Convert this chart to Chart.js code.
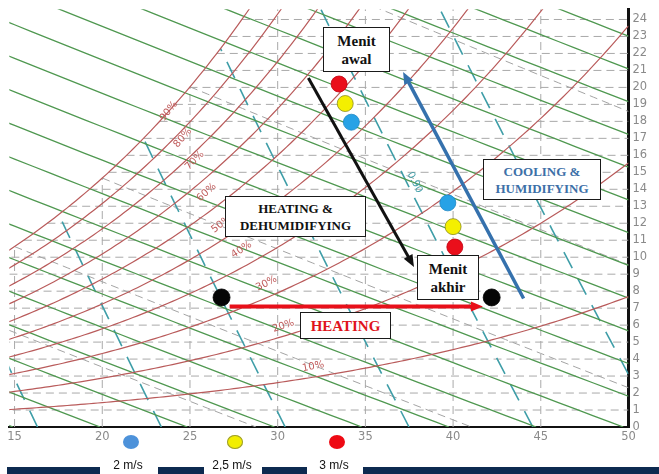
<!DOCTYPE html>
<html>
<head>
<meta charset="utf-8">
<script src="https://cdn.jsdelivr.net/npm/chart.js@4.4.1/dist/chart.umd.min.js"></script>
<style>
  html, body { margin: 0; padding: 0; background: #fff; }
  #wrap { position: relative; width: 659px; height: 474px; overflow: hidden; }
  #chart { position: absolute; left: 0; top: 0; }
  .box {
    position: absolute; background: #fff; border: 1px solid #1a1a1a; box-sizing: border-box;
    font-family: "Liberation Serif", "Times New Roman", serif; font-weight: bold;
    text-align: center; display: flex; flex-direction: column; justify-content: center;
  }
  .bar { position: absolute; top: 467px; height: 7px; background: #0d2a50; }
  .dot { position: absolute; border-radius: 50%; }
  .lbl { position: absolute; font-family: "Liberation Sans", Arial, sans-serif; font-size: 12px; color: #111; transform: translateX(-50%); white-space: nowrap; }
</style>
</head>
<body>
<div id="wrap">
  <canvas id="chart" width="659" height="474"></canvas>

  <div class="box" style="left:323px;top:27px;width:67px;height:45px;font-size:15px;line-height:18px;color:#111;">Menit<br>awal</div>
  <div class="box" style="left:225px;top:196px;width:141px;height:41px;font-size:13px;line-height:17px;color:#111;">HEATING &amp;<br>DEHUMIDIFYING</div>
  <div class="box" style="left:483px;top:159px;width:118px;height:41px;font-size:13px;line-height:17px;color:#3d70a8;">COOLING &amp;<br>HUMIDIFYING</div>
  <div class="box" style="left:417px;top:255px;width:62px;height:45px;font-size:15px;line-height:18px;color:#111;">Menit<br>akhir</div>
  <div class="box" style="left:300px;top:312px;width:91px;height:27px;font-size:15px;line-height:18px;color:#e0141c;">HEATING</div>

  <div class="bar" style="left:7px;width:93px;"></div>
  <div class="bar" style="left:158px;width:46px;"></div>
  <div class="bar" style="left:262px;width:45px;"></div>
  <div class="bar" style="left:363px;width:296px;"></div>
  <div id="legend"></div>
</div>

<script>
// ---- axis ticks ----
const X_TICKS = [15, 20, 25, 30, 35, 40, 45, 50];
const Y_TICKS = [0, 1, 2, 3, 4, 5, 6, 7, 8, 9, 10, 11, 12, 13, 14, 15, 16, 17, 18, 19, 20, 21, 22, 23, 24];

// ---- psychrometric families drawn on the chart ----
const RH_LEVELS = [10, 20, 30, 40, 50, 60, 70, 80, 90, 100];          // %
const ENTHALPY_LEVELS = [15, 20, 25, 30, 35, 40, 45, 50, 55, 60, 65, 70, 75, 80, 85, 90, 95, 100, 105, 110]; // kJ/kg
const VOLUME_LEVELS = [0.82, 0.84, 0.86, 0.88, 0.90, 0.92];            // m3/kg
const WETBULB_LEVELS = [10, 15, 20, 25, 30];                            // degC
const GRID_T = [15, 20, 25, 30, 35, 40, 45];                            // degC
const GRID_W = [1, 2, 3, 4, 5, 6, 7, 8, 9, 10, 11, 12, 13, 14, 15, 16, 17, 18, 19, 20, 21, 22, 23, 24]; // g/kg

// ---- measured states (dry bulb degC, humidity ratio g/kg) ----
const SPEED_LABELS = ['2 m/s', '2,5 m/s', '3 m/s'];
const SPEED_2 = [[34.2, 17.95], [39.7, 13.2]];
const SPEED_25 = [[33.85, 19.05], [40.0, 11.8]];
const SPEED_3 = [[33.5, 20.2], [40.1, 10.6]];
const STATE_POINTS = [[26.8, 7.63], [42.2, 7.63]];

// ---- process arrows (start -> end) ----
const ARROW_HEATING = [[27.26, 7.1], [41.7, 7.1]];
const ARROW_HEAT_DEHUM = [[31.75, 20.56], [37.77, 9.43]];
const ARROW_COOL_HUM = [[44.02, 7.57], [37.15, 20.91]];

// ---- psychrometric relations ----
const P_ATM = 101.325;
const psat = T => 0.61094 * Math.exp(17.625 * T / (T + 243.04));
const wFromRH = (T, rh) => { const pv = rh / 100 * psat(T); return 622 * pv / (P_ATM - pv); };
function tSat(W) {
  let lo = -20, hi = 80;
  for (let i = 0; i < 60; i++) { const m = (lo + hi) / 2; if (wFromRH(m, 100) < W) lo = m; else hi = m; }
  return (lo + hi) / 2;
}
const toXY = arr => arr.map(p => ({ x: p[0], y: p[1] }));

const X_MIN = 14.7, X_MAX = 50, Y_MIN = 0, Y_MAX = 24.6;

function rhCurve(rh) {
  const pts = [];
  for (let T = 10; T <= 52; T += 0.25) {
    const W = wFromRH(T, rh);
    pts.push({ x: T, y: W });
    if (W > 27) break;
  }
  return pts;
}
function enthalpyLine(h) {
  const T0 = h / 1.006, pts = [];
  for (let T = 5; T < T0; T += 1) pts.push({ x: T, y: 1000 * (h - 1.006 * T) / (2501 + 1.86 * T) });
  pts.push({ x: T0, y: 0 });
  return pts;
}
function volumeLine(v) {
  const Tv = W => v * P_ATM / (0.287042 * (1 + 1.607858 * W / 1000)) - 273.15;
  let lo = 0, hi = 40;
  for (let i = 0; i < 60; i++) { const m = (lo + hi) / 2; if (wFromRH(Tv(m), 100) > m) lo = m; else hi = m; }
  const pts = [];
  for (let i = 0; i <= 12; i++) { const W = lo * i / 12; pts.push({ x: Tv(W), y: W }); }
  return pts;
}
function wetBulbLine(twb) {
  const ws = wFromRH(twb, 100) / 1000;
  const T0 = twb + (2501 - 2.326 * twb) * ws / 1.006;
  const pts = [];
  for (let T = twb; T < T0; T += 1) pts.push({ x: T, y: 1000 * ((2501 - 2.326 * twb) * ws - 1.006 * (T - twb)) / (2501 + 1.86 * T - 4.186 * twb) });
  pts.push({ x: T0, y: 0 });
  return pts;
}

function lineDs(points, color, width, dash, order) {
  return { data: points, showLine: true, borderColor: color, borderWidth: width, borderDash: dash,
           pointRadius: 0, pointHoverRadius: 0, tension: 0, fill: false, order };
}

const datasets = [];
GRID_W.forEach(W => datasets.push(lineDs([{ x: tSat(W), y: W }, { x: X_MAX, y: W }], '#a9a9a9', 1, [8, 5], 60)));
GRID_T.forEach(T => datasets.push(lineDs([{ x: T, y: 0 }, { x: T, y: Math.min(wFromRH(T, 100), Y_MAX) }], '#a9a9a9', 1, [8, 5], 60)));
WETBULB_LEVELS.forEach(t => datasets.push(lineDs(wetBulbLine(t), '#a4a4a4', 1, [8, 5], 55)));
VOLUME_LEVELS.forEach(v => datasets.push(lineDs(volumeLine(v), '#3f9ea8', 1.6, [18, 12], 50)));
ENTHALPY_LEVELS.forEach(h => datasets.push(lineDs(enthalpyLine(h), '#4f9850', 1.3, [], 45)));
RH_LEVELS.forEach(rh => datasets.push(lineDs(rhCurve(rh), '#b95b5b', 1.2, [], 40)));

function arrowDs(arr, color, width) {
  return { data: toXY(arr), showLine: false, pointRadius: 0, pointHoverRadius: 0, order: 10,
           arrow: { color, width, head: 12, half: 5 } };
}
datasets.push(arrowDs(ARROW_HEATING, '#e8101a', 4));
datasets.push(arrowDs(ARROW_HEAT_DEHUM, '#111111', 3));
datasets.push(arrowDs(ARROW_COOL_HUM, '#3571ad', 3.5));

function dotDs(arr, color, border, r) {
  return { data: toXY(arr), showLine: false, pointRadius: r, pointHoverRadius: r,
           backgroundColor: color, borderColor: border, borderWidth: 0.8, order: 1 };
}
datasets.push(dotDs(STATE_POINTS, '#050505', '#000', 8.5));
datasets.push(dotDs(SPEED_2, '#27a2e6', '#1d86c4', 8));
datasets.push(dotDs(SPEED_25, '#f4ef00', '#8a8a20', 8));
datasets.push(dotDs(SPEED_3, '#ea0f1b', '#c00010', 8));

// arrows are drawn from the points the library placed for each arrow dataset
const arrowPlugin = {
  id: 'arrows',
  afterDatasetDraw(chart, args) {
    const ds = chart.data.datasets[args.index];
    if (!ds.arrow) return;
    const pts = args.meta.data;
    const a = pts[0], b = pts[pts.length - 1];
    const { color, width, head, half } = ds.arrow;
    const ang = Math.atan2(b.y - a.y, b.x - a.x);
    const bx = b.x - Math.cos(ang) * head, by = b.y - Math.sin(ang) * head;
    const ctx = chart.ctx;
    ctx.save();
    ctx.strokeStyle = color; ctx.fillStyle = color; ctx.lineWidth = width; ctx.lineCap = 'butt';
    ctx.beginPath(); ctx.moveTo(a.x, a.y); ctx.lineTo(bx + Math.cos(ang) * 1, by + Math.sin(ang) * 1); ctx.stroke();
    ctx.beginPath();
    ctx.moveTo(b.x, b.y);
    ctx.lineTo(bx + Math.sin(ang) * half, by - Math.cos(ang) * half);
    ctx.lineTo(bx - Math.sin(ang) * half, by + Math.cos(ang) * half);
    ctx.closePath(); ctx.fill();
    ctx.restore();
  }
};

// relative humidity labels along the curves, plus the specific volume tag
const RH_LABEL_AT = [
  { rh: 90, T: 23.79, W: 18.60 }, { rh: 80, T: 24.59, W: 17.03 }, { rh: 70, T: 25.27, W: 15.69 },
  { rh: 60, T: 25.95, W: 13.82 }, { rh: 50, T: 26.80, W: 11.95 }, { rh: 40, T: 27.94, W: 10.44 },
  { rh: 30, T: 29.36, W: 8.45 }, { rh: 20, T: 30.33, W: 5.95 }, { rh: 10, T: 32.03, W: 3.56 }
];
const labelPlugin = {
  id: 'curveLabels',
  afterDatasetsDraw(chart) {
    const { ctx, scales: { x, y } } = chart;
    ctx.save();
    ctx.beginPath();
    ctx.rect(chart.chartArea.left, chart.chartArea.top, chart.chartArea.right - chart.chartArea.left, chart.chartArea.bottom - chart.chartArea.top);
    ctx.clip();
    ctx.font = '10px "DejaVu Sans", sans-serif';
    ctx.fillStyle = '#bf5a5a';
    ctx.textAlign = 'center'; ctx.textBaseline = 'middle';
    RH_LABEL_AT.forEach(l => {
      const dx = x.getPixelForValue(l.T + 0.2) - x.getPixelForValue(l.T - 0.2);
      const dy = y.getPixelForValue(wFromRH(l.T + 0.2, l.rh)) - y.getPixelForValue(wFromRH(l.T - 0.2, l.rh));
      ctx.save();
      ctx.translate(x.getPixelForValue(l.T), y.getPixelForValue(l.W));
      ctx.rotate(Math.atan2(dy, dx) * 1.15);
      ctx.fillText(l.rh + '%', 0, 0);
      ctx.restore();
    });
    // specific volume tag on the 0.90 line
    const vT = 0.90 * P_ATM / (0.287042 * (1 + 1.607858 * 14.4 / 1000)) - 273.15;
    ctx.save();
    ctx.fillStyle = '#3f9ea8';
    ctx.translate(x.getPixelForValue(vT) + 8, y.getPixelForValue(14.4));
    ctx.rotate(Math.atan2(17.15, 8.8));
    ctx.fillText('0.90', 0, 0);
    ctx.restore();
    ctx.restore();
  }
};

const tickFont = { family: '"DejaVu Sans", sans-serif', size: 11.5 };
new Chart(document.getElementById('chart'), {
  type: 'scatter',
  data: { datasets },
  options: {
    responsive: false, animation: false, devicePixelRatio: 1,
    layout: { padding: { left: 7, top: 5, right: 0, bottom: 0 } },
    plugins: { legend: { display: false }, tooltip: { enabled: false } },
    events: [],
    scales: {
      x: {
        type: 'linear', min: X_MIN, max: X_MAX,
        grid: { display: false, drawTicks: false },
        border: { display: true, color: '#111', width: 2 },
        ticks: { color: '#8a8a8a', font: tickFont, padding: 3, maxRotation: 0, autoSkip: false },
        afterBuildTicks: s => { s.ticks = X_TICKS.map(v => ({ value: v })); },
        afterFit: s => { s.height = 47; s.paddingLeft = 0; s.paddingRight = 0; }
      },
      y: {
        type: 'linear', position: 'right', min: Y_MIN, max: Y_MAX,
        grid: { display: false, drawTicks: false },
        border: { display: true, color: '#111', width: 3 },
        ticks: { color: '#8a8a8a', font: tickFont, padding: 4, autoSkip: false },
        afterBuildTicks: s => { s.ticks = Y_TICKS.map(v => ({ value: v })); },
        afterFit: s => { s.width = 30.5; s.paddingTop = 0; s.paddingBottom = 0; }
      }
    }
  },
  plugins: [arrowPlugin, labelPlugin]
});

// legend under the axis
const LEGEND_COLORS = ['#4d92da', '#f2ee00', '#ee0a14'];
const LEGEND_X = [131, 235, 337];
const legend = document.getElementById('legend');
SPEED_LABELS.forEach((name, i) => {
  const d = document.createElement('div');
  d.className = 'dot';
  d.style.cssText = `left:${LEGEND_X[i] - 8}px;top:435px;width:16px;height:14px;background:${LEGEND_COLORS[i]};` +
    (i === 1 ? 'box-shadow:0 0 0 1px #9a9a3a inset;' : '');
  legend.appendChild(d);
  const t = document.createElement('div');
  t.className = 'lbl';
  t.style.cssText = `left:${LEGEND_X[i] - 3}px;top:458px;`;
  t.textContent = name;
  legend.appendChild(t);
});
</script>
</body>
</html>
